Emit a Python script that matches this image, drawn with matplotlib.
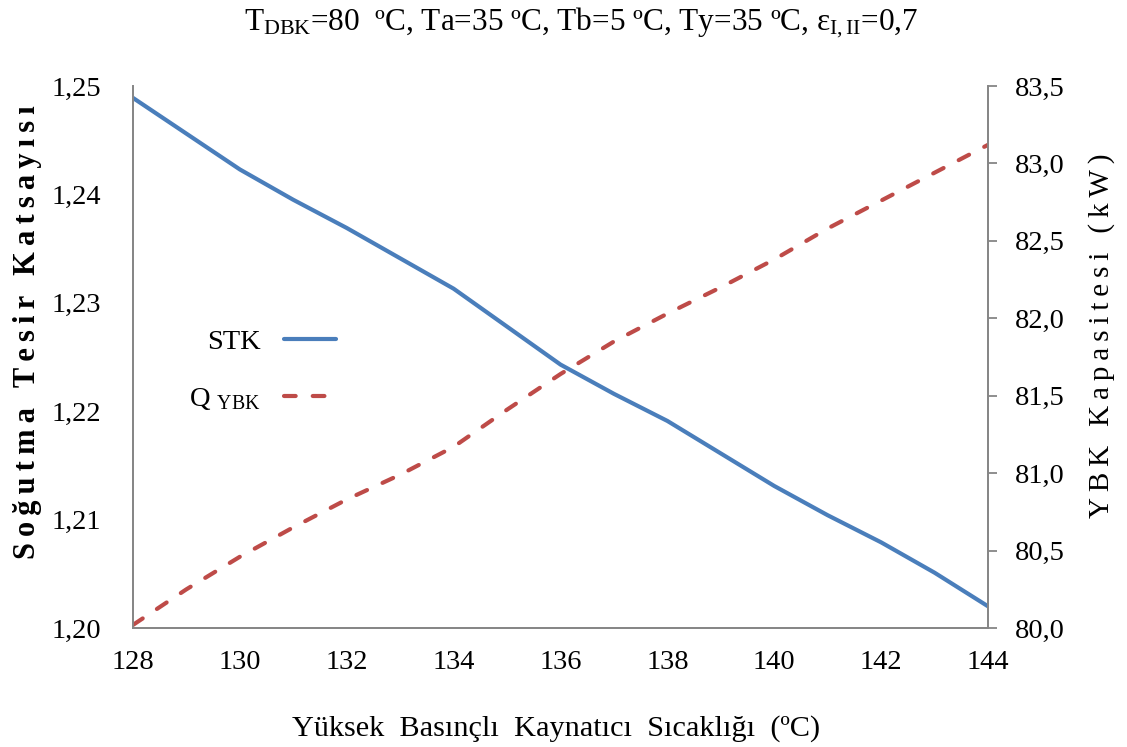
import matplotlib
matplotlib.use("Agg")
import matplotlib.pyplot as plt
from matplotlib.ticker import FixedLocator, FuncFormatter

# ---- data ----
temperature = [128, 129, 130, 131, 132, 133, 134, 135, 136,
               137, 138, 139, 140, 141, 142, 143, 144]
stk = [1.2489, 1.2456, 1.2423, 1.2395, 1.2369, 1.2341, 1.2313, 1.2278, 1.2243,
       1.2216, 1.2191, 1.2161, 1.2131, 1.2104, 1.2079, 1.2051, 1.2020]
q_ybk = [80.02, 80.25, 80.46, 80.65, 80.83, 80.99, 81.17, 81.41, 81.64,
         81.85, 82.03, 82.20, 82.38, 82.58, 82.76, 82.94, 83.12]

x_ticks = [128, 130, 132, 134, 136, 138, 140, 142, 144]
left_ticks = [1.20, 1.21, 1.22, 1.23, 1.24, 1.25]
right_ticks = [80.0, 80.5, 81.0, 81.5, 82.0, 82.5, 83.0, 83.5]

title = "T$_{\\mathrm{DBK}}$=80  ºC, Ta=35 ºC, Tb=5 ºC, Ty=35 ºC, ε$_{\\mathrm{I,II}}$=0,7"
xlabel = "Yüksek  Basınçlı  Kaynatıcı  Sıcaklığı  (ºC)"
ylabel_left = "Soğutma Tesir Katsayısı"
ylabel_right = "YBK Kapasitesi (kW)"
label_stk = "STK"
label_q = "Q $_{\\mathrm{YBK}}$"

# ---- style ----
plt.rcParams["font.family"] = ["Liberation Serif", "DejaVu Serif"]
plt.rcParams["mathtext.fontset"] = "custom"
plt.rcParams["mathtext.rm"] = "Liberation Serif"
plt.rcParams["mathtext.it"] = "Liberation Serif:italic"
plt.rcParams["mathtext.bf"] = "Liberation Serif:bold"

BLUE = "#4A7EBB"
RED = "#BE4B48"
SPINE = "#868686"
TICK_FS = 20.5


def spaced(s):
    return "\u2009".join(s)


fig = plt.figure(figsize=(11.27, 7.47), dpi=100)
ax = fig.add_axes([0.118, 0.1593, 0.7587, 0.7256])
ax2 = ax.twinx()

l1, = ax.plot(temperature, stk, color=BLUE, lw=3.0, solid_capstyle="round",
              solid_joinstyle="round", label=label_stk)
l2, = ax2.plot(temperature, q_ybk, color=RED, lw=3.0, dashes=(2.8, 4.1),
               dash_capstyle="round", label=label_q)

ax.set_xlim(128, 144)
ax.set_ylim(1.20, 1.25)
ax2.set_ylim(80.0, 83.5)

ax.xaxis.set_major_locator(FixedLocator(x_ticks))
ax.yaxis.set_major_locator(FixedLocator(left_ticks))
ax2.yaxis.set_major_locator(FixedLocator(right_ticks))
ax.yaxis.set_major_formatter(FuncFormatter(lambda v, p: f"{v:.2f}".replace(".", ",")))
ax2.yaxis.set_major_formatter(FuncFormatter(lambda v, p: f"{v:.1f}".replace(".", ",")))

for a in (ax, ax2):
    a.spines["top"].set_visible(False)
    for s in ("left", "right", "bottom"):
        a.spines[s].set_color(SPINE)
        a.spines[s].set_linewidth(1.3)

ax.tick_params(axis="x", length=0, pad=16, labelsize=TICK_FS)
ax.tick_params(axis="y", length=0, pad=23, labelsize=TICK_FS)
ax2.tick_params(axis="y", length=6.5, width=1.3, color=SPINE, pad=13, labelsize=TICK_FS)

ax.set_xlabel(xlabel, fontsize=21.8)
ax.xaxis.set_label_coords(0.4947, -0.16)
ax.set_ylabel(spaced(ylabel_left), fontsize=22, fontweight="bold")
ax.yaxis.set_label_coords(-0.1064, 0.545)
ax2.set_ylabel(spaced(ylabel_right), fontsize=21)
ax2.yaxis.set_label_coords(1.117, 0.54)

fig.text(0.5156, 0.97, title, ha="center", va="center", fontsize=22.5)

ax.legend(handles=[l1, l2], loc="center right", bbox_to_anchor=(0.267, 0.475),
          frameon=False, markerfirst=False, fontsize=TICK_FS, handlelength=1.83,
          handletextpad=0.8, labelspacing=1.1)

fig.savefig("out.png", dpi=100)
